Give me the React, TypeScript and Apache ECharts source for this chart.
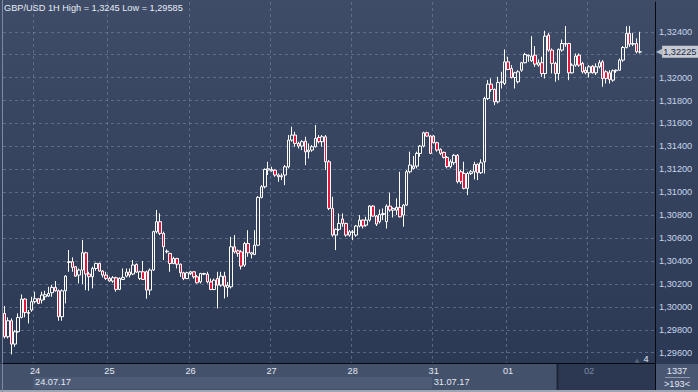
import React, { useEffect, useRef } from 'react';
import * as echarts from 'echarts';

// [open, close, low, high]
type Bar = [number, number, number, number];

const day23: Bar[] = [
  [1.29943, 1.29739, 1.29724, 1.30007],
  [1.29739, 1.29879, 1.29724, 1.29908],
  [1.29879, 1.29675, 1.29585, 1.29899],
  [1.29675, 1.29783, 1.29652, 1.29797],
  [1.29783, 1.29908, 1.29774, 1.29943],
  [1.29908, 1.30068, 1.29899, 1.30108],
  [1.30068, 1.29951, 1.29908, 1.30074],
  [1.29951, 1.29943, 1.29855, 1.29972],
  [1.29972, 1.30045, 1.29957, 1.30088],
];

const day24: Bar[] = [
  [1.30045, 1.30071, 1.3003, 1.30132],
  [1.30071, 1.3003, 1.30024, 1.30077],
  [1.30059, 1.30103, 1.3003, 1.30132],
  [1.30088, 1.30106, 1.30059, 1.3014],
  [1.30094, 1.30117, 1.30088, 1.30175],
  [1.30123, 1.3017, 1.30088, 1.3019],
  [1.3017, 1.3014, 1.30132, 1.30225],
  [1.3014, 1.29914, 1.29879, 1.30152],
  [1.29914, 1.3014, 1.29879, 1.30152],
  [1.3014, 1.30268, 1.3003, 1.30277],
  [1.30388, 1.30394, 1.30306, 1.30496],
  [1.30394, 1.30344, 1.30306, 1.30432],
  [1.3035, 1.30268, 1.30263, 1.30356],
  [1.30277, 1.30321, 1.30205, 1.30335],
  [1.30321, 1.30472, 1.30199, 1.30583],
  [1.30472, 1.30286, 1.30146, 1.30481],
  [1.30286, 1.30263, 1.3014, 1.30306],
  [1.30263, 1.30335, 1.30161, 1.3035],
  [1.30335, 1.30379, 1.30315, 1.30385],
  [1.30379, 1.30312, 1.30306, 1.30385],
  [1.30312, 1.30277, 1.30257, 1.30321],
  [1.30277, 1.30248, 1.30234, 1.30306],
];

const day25: Bar[] = [
  [1.30248, 1.30225, 1.30219, 1.30263],
  [1.30225, 1.30254, 1.3021, 1.30268],
  [1.30254, 1.30152, 1.30132, 1.30263],
  [1.30152, 1.30248, 1.30146, 1.30257],
  [1.30239, 1.30257, 1.30234, 1.30335],
  [1.30268, 1.30303, 1.30257, 1.30335],
  [1.30303, 1.30277, 1.30257, 1.30335],
  [1.30286, 1.30365, 1.30277, 1.30408],
  [1.3037, 1.30303, 1.30298, 1.30379],
  [1.30248, 1.30306, 1.30234, 1.30315],
  [1.30306, 1.30239, 1.30234, 1.30399],
  [1.30306, 1.30146, 1.30071, 1.30315],
  [1.30146, 1.30321, 1.30103, 1.30335],
  [1.30321, 1.30656, 1.30315, 1.30664],
  [1.30656, 1.30743, 1.30641, 1.30845],
  [1.30743, 1.30641, 1.30626, 1.30816],
  [1.30641, 1.30525, 1.30408, 1.30656],
  [1.3048, 1.30486, 1.30466, 1.30501],
  [1.30466, 1.30378, 1.30306, 1.30472],
  [1.30378, 1.30422, 1.30372, 1.30437],
  [1.30422, 1.30372, 1.30335, 1.30428],
  [1.30372, 1.30297, 1.30262, 1.30378],
  [1.30297, 1.30247, 1.30233, 1.30306],
  [1.30247, 1.30297, 1.30242, 1.30306],
];

const day26: Bar[] = [
  [1.30291, 1.30306, 1.30277, 1.30314],
  [1.30306, 1.30262, 1.30247, 1.30312],
  [1.30262, 1.3021, 1.30204, 1.30277],
  [1.30218, 1.30291, 1.30204, 1.30297],
  [1.30285, 1.30291, 1.30277, 1.30297],
  [1.30285, 1.30218, 1.30204, 1.30306],
  [1.30218, 1.30151, 1.30146, 1.30247],
  [1.30151, 1.30233, 1.30146, 1.30247],
  [1.30247, 1.30189, 1.29986, 1.30306],
  [1.30189, 1.30268, 1.30175, 1.30306],
  [1.30268, 1.3018, 1.30073, 1.30306],
  [1.30169, 1.30189, 1.30087, 1.30218],
  [1.30175, 1.30524, 1.3016, 1.30611],
  [1.30524, 1.3048, 1.30466, 1.30626],
  [1.30489, 1.30466, 1.30437, 1.30501],
  [1.3048, 1.30355, 1.30326, 1.30495],
  [1.30364, 1.30553, 1.30349, 1.30567],
  [1.30553, 1.30472, 1.30437, 1.30669],
  [1.3046, 1.30472, 1.30422, 1.3048],
  [1.30457, 1.30538, 1.30451, 1.30669],
  [1.30538, 1.30955, 1.3053, 1.30966],
  [1.30955, 1.31048, 1.30946, 1.31062],
  [1.31048, 1.31199, 1.31033, 1.31208],
  [1.31193, 1.31205, 1.3115, 1.31266],
];

const day27: Bar[] = [
  [1.31187, 1.31199, 1.31179, 1.31222],
  [1.31193, 1.3115, 1.31135, 1.31199],
  [1.3115, 1.31135, 1.31091, 1.31164],
  [1.31135, 1.31144, 1.31106, 1.31164],
  [1.3115, 1.31222, 1.31062, 1.31237],
  [1.31222, 1.31455, 1.31208, 1.31499],
  [1.31455, 1.31499, 1.31441, 1.31572],
  [1.31499, 1.31426, 1.31397, 1.31528],
  [1.31426, 1.31403, 1.31382, 1.31441],
  [1.31403, 1.31441, 1.31368, 1.31455],
  [1.31446, 1.31353, 1.31237, 1.31484],
  [1.31353, 1.31368, 1.31295, 1.31426],
  [1.31368, 1.31397, 1.31353, 1.31411],
  [1.31397, 1.3147, 1.31391, 1.31586],
  [1.31478, 1.31441, 1.31426, 1.31499],
  [1.31441, 1.31484, 1.31397, 1.31499],
  [1.31484, 1.31266, 1.31193, 1.31499],
  [1.31266, 1.30859, 1.30844, 1.31281],
  [1.30859, 1.30626, 1.30612, 1.30961],
  [1.30626, 1.30676, 1.30495, 1.30684],
  [1.30676, 1.30728, 1.30664, 1.30815],
  [1.30766, 1.30728, 1.30699, 1.30815],
  [1.30728, 1.30626, 1.30612, 1.30734],
  [1.30626, 1.30655, 1.30612, 1.3067],
];

const day28: Bar[] = [
  [1.30649, 1.30655, 1.30582, 1.3067],
  [1.30626, 1.30705, 1.30612, 1.30714],
  [1.30705, 1.30757, 1.30693, 1.30801],
  [1.30757, 1.30705, 1.30684, 1.30763],
  [1.30713, 1.30757, 1.30699, 1.30786],
  [1.30757, 1.30879, 1.30743, 1.30888],
  [1.30879, 1.30792, 1.30786, 1.30888],
  [1.30792, 1.30722, 1.30705, 1.30801],
  [1.30743, 1.30806, 1.30728, 1.3085],
  [1.30806, 1.30815, 1.30757, 1.30859],
  [1.30743, 1.30879, 1.30684, 1.30894],
  [1.30879, 1.30844, 1.3083, 1.30996],
  [1.30844, 1.30859, 1.3078, 1.30868],
  [1.30844, 1.30868, 1.30801, 1.30946],
  [1.30868, 1.30786, 1.3078, 1.31179],
  [1.30801, 1.30888, 1.30699, 1.30897],
  [1.30888, 1.31179, 1.30879, 1.31194],
  [1.31179, 1.31237, 1.31164, 1.31354],
  [1.31208, 1.31228, 1.31199, 1.31316],
  [1.31228, 1.31339, 1.31208, 1.31354],
  [1.31339, 1.31403, 1.3131, 1.31412],
  [1.31403, 1.31519, 1.31391, 1.31528],
  [1.31519, 1.3149, 1.31485, 1.31528],
  [1.3149, 1.31339, 1.31333, 1.31499],
];

const day31: Bar[] = [
  [1.3149, 1.31432, 1.31426, 1.31499],
  [1.31432, 1.31368, 1.31354, 1.31441],
  [1.31374, 1.31339, 1.31324, 1.31383],
  [1.31348, 1.31304, 1.31295, 1.31354],
  [1.31304, 1.31223, 1.31208, 1.31316],
  [1.31223, 1.31266, 1.31208, 1.31287],
  [1.31257, 1.31322, 1.31237, 1.31333],
  [1.31322, 1.31092, 1.31077, 1.31333],
  [1.31179, 1.31092, 1.31071, 1.31194],
  [1.31164, 1.31034, 1.31025, 1.31266],
  [1.31034, 1.31164, 1.30975, 1.31179],
  [1.31164, 1.31179, 1.3115, 1.31194],
  [1.31179, 1.31243, 1.31112, 1.31266],
  [1.31243, 1.3117, 1.31106, 1.31252],
  [1.3117, 1.31257, 1.31159, 1.31287],
  [1.31265, 1.31818, 1.31163, 1.31833],
  [1.31818, 1.31943, 1.31804, 1.31978],
  [1.31943, 1.31897, 1.31876, 1.31993],
  [1.31897, 1.31789, 1.3176, 1.31905],
  [1.31789, 1.31958, 1.31775, 1.32007],
  [1.31958, 1.31964, 1.31905, 1.32051],
  [1.31949, 1.32138, 1.31935, 1.32246],
];

const day01: Bar[] = [
  [1.32138, 1.32071, 1.32065, 1.32182],
  [1.3208, 1.32001, 1.31993, 1.32109],
  [1.32001, 1.32042, 1.31905, 1.32051],
  [1.31964, 1.32051, 1.31949, 1.32065],
  [1.32065, 1.3213, 1.32051, 1.32138],
  [1.3213, 1.32202, 1.32124, 1.32217],
  [1.32188, 1.32196, 1.32138, 1.32202],
  [1.32147, 1.32188, 1.32138, 1.32362],
  [1.32196, 1.32118, 1.32095, 1.32275],
  [1.32109, 1.3213, 1.32095, 1.32159],
  [1.3213, 1.32036, 1.32007, 1.32182],
  [1.32036, 1.32362, 1.31993, 1.32409],
  [1.32371, 1.3224, 1.32226, 1.32391],
  [1.3224, 1.32124, 1.32036, 1.32255],
  [1.32124, 1.32036, 1.31964, 1.32138],
  [1.32036, 1.32246, 1.31978, 1.32255],
  [1.3224, 1.32298, 1.32226, 1.32333],
  [1.32292, 1.32298, 1.32269, 1.3245],
  [1.32298, 1.32042, 1.31978, 1.32304],
  [1.32042, 1.32109, 1.32036, 1.32124],
  [1.32109, 1.32188, 1.32095, 1.32211],
  [1.32196, 1.32109, 1.32095, 1.32211],
  [1.32124, 1.32051, 1.32036, 1.32138],
  [1.32065, 1.32042, 1.3203, 1.32095],
];

const day02: Bar[] = [
  [1.32042, 1.32095, 1.32001, 1.32109],
  [1.321, 1.32042, 1.32036, 1.32109],
  [1.32042, 1.32095, 1.32022, 1.32124],
  [1.32095, 1.3213, 1.3208, 1.32153],
  [1.32138, 1.31993, 1.3192, 1.32153],
  [1.32051, 1.31993, 1.31949, 1.32065],
  [1.32042, 1.31984, 1.31949, 1.32065],
  [1.31978, 1.3206, 1.31964, 1.32071],
  [1.3206, 1.32065, 1.32042, 1.32071],
  [1.32065, 1.32153, 1.3206, 1.32167],
  [1.32153, 1.32263, 1.32138, 1.32275],
  [1.32263, 1.32386, 1.32255, 1.32448],
  [1.32386, 1.32292, 1.32269, 1.3245],
  [1.32292, 1.32298, 1.32275, 1.32391],
  [1.32298, 1.32226, 1.32211, 1.32342],
  [1.32224, 1.32225, 1.32211, 1.324],
];

const dayLabels = ['23', '24', '25', '26', '27', '28', '31', '01', '02'];
const dayBars = [day23, day24, day25, day26, day27, day28, day31, day01, day02];
const hiddenDayLabel = '23';
const dimDayLabel = '02';
const weekStartDays = ['24', '31'];
const weekLabels = ['24.07.17', '31.07.17'];
const priceTicks = [
  1.296, 1.298, 1.3, 1.302, 1.304, 1.306, 1.308, 1.31, 1.312, 1.314, 1.316, 1.318, 1.32, 1.322, 1.324,
];
const visibleBars = 193;
const lastPrice = 1.32225;
const titleText = 'GBP/USD 1H High = 1,3245 Low = 1,29585';
const counterTop = '1337';
const counterBottom = '>193<';
const cornerNumber = '4';

const FONT = '"Liberation Sans", Arial, sans-serif';
const FS = 9.2;
const fmt = (v: number) => v.toFixed(5).replace('.', ',');

function buildOption() {
  const categories: string[] = [];
  const bars: Bar[] = [];
  dayBars.forEach((arr, d) => {
    arr.forEach((b, k) => {
      categories.push(dayLabels[d] + ':' + k);
      bars.push(b);
    });
  });
  let p = 0;
  while (categories.length < visibleBars) categories.push('pad:' + p++);

  const isDayStart = (v: string) =>
    v.endsWith(':0') && !v.startsWith('pad') && !v.startsWith(hiddenDayLabel + ':');
  const isWeekStart = (v: string) => weekStartDays.some((d) => v === d + ':0');
  const isShownTick = (v: number) =>
    priceTicks.some((t) => Math.abs(t - v) < 1e-7) && Math.abs(v - lastPrice) > 0.0005;

  const gridLine = { color: 'rgba(122,138,170,0.55)', type: [3, 3] as any, width: 1 };

  return {
    animation: false,
    backgroundColor: '#2f3d59',
    title: {
      text: titleText,
      left: 4,
      top: 2,
      padding: 0,
      textStyle: { color: '#e6ecf6', fontSize: FS, fontWeight: 'normal', fontFamily: FONT, lineHeight: 11 },
    },
    grid: { left: 3, right: 43, top: 2, bottom: 29, containLabel: false },
    xAxis: [
      {
        type: 'category',
        data: categories,
        boundaryGap: true,
        axisLine: { show: true, onZero: false, lineStyle: { color: '#06090f', width: 1 } },
        axisTick: { show: false },
        axisLabel: {
          interval: (_i: number, v: string) => isDayStart(v),
          formatter: (v: string) => {
            const d = v.split(':')[0];
            return d === dimDayLabel ? '{dim|' + d + '}' : d;
          },
          rich: { dim: { color: '#7c89a3', fontSize: FS, fontFamily: FONT } },
          color: '#e2e8f3',
          fontSize: FS,
          fontFamily: FONT,
          margin: 3,
        },
        splitLine: {
          show: true,
          interval: (_i: number, v: string) => isDayStart(v),
          lineStyle: gridLine,
        },
      },
      {
        type: 'category',
        data: categories,
        boundaryGap: true,
        position: 'bottom',
        offset: 11,
        axisLine: { show: false },
        axisTick: { show: false },
        splitLine: { show: false },
        axisLabel: {
          interval: (_i: number, v: string) => isWeekStart(v),
          formatter: (v: string) => weekLabels[weekStartDays.indexOf(v.split(':')[0])] ?? '',
          align: 'left',
          color: '#e2e8f3',
          fontSize: FS,
          fontFamily: FONT,
          margin: 3,
        },
      },
    ],
    yAxis: {
      type: 'value',
      position: 'right',
      min: 1.2951,
      max: 1.3266,
      splitNumber: 15,
      minInterval: 0.002,
      maxInterval: 0.002,
      axisLine: { show: true, lineStyle: { color: '#06090f', width: 1 } },
      axisTick: { show: false },
      axisLabel: {
        color: '#c8d5ea',
        fontSize: FS,
        fontFamily: FONT,
        margin: 4,
        showMinLabel: false,
        showMaxLabel: false,
        formatter: (v: number) => (isShownTick(v) ? fmt(v) : ''),
      },
      splitLine: { show: false },
    },
    series: [
      {
        type: 'candlestick',
        data: bars,
        barWidth: 3,
        clip: false,
        itemStyle: {
          color: 'rgba(0,0,0,0)',
          color0: '#e3163b',
          borderColor: '#ffffff',
          borderColor0: '#ffffff',
          borderWidth: 1,
        },
        markLine: {
          silent: true,
          symbol: 'none',
          animation: false,
          precision: 5,
          z: 0,
          data: [
            ...priceTicks.map((t) => ({
              yAxis: t,
              lineStyle: gridLine,
              label: { show: false },
            })),
            {
              yAxis: lastPrice,
              lineStyle: { color: 'rgba(0,0,0,0)', width: 0 },
              label: {
                show: true,
                position: 'end',
                distance: 1,
                formatter: () => '{a|◀}{b|' + fmt(lastPrice) + '}',
                rich: {
                  a: { color: '#b7bcc7', fontSize: 8, fontFamily: 'DejaVu Sans' },
                  b: {
                    backgroundColor: '#c7cbd3',
                    color: '#1c2640',
                    fontSize: FS,
                    fontFamily: FONT,
                    padding: [2, 2, 1, 1],
                  },
                },
              },
            },
          ],
        },
      },
    ],
    graphic: [
      {
        type: 'rect',
        z: -100,
        silent: true,
        shape: { x: 0, y: 0, width: 698, height: 364 },
        style: {
          fill: new echarts.graphic.LinearGradient(0, 0, 0, 1, [
            { offset: 0, color: '#3f4c68' },
            { offset: 1, color: '#2b3955' },
          ]),
        },
      },
      { type: 'rect', z: -90, silent: true, shape: { x: 0, y: 364, width: 698, height: 28 }, style: { fill: '#44516b' } },
      { type: 'rect', z: -85, silent: true, shape: { x: 33, y: 377, width: 399, height: 12 }, style: { fill: '#4d5b77' } },
      { type: 'rect', z: -85, silent: true, shape: { x: 557, y: 364, width: 98, height: 28 }, style: { fill: '#2c3852' } },
      { type: 'line', z: -80, silent: true, shape: { x1: 557.5, y1: 364, x2: 557.5, y2: 392 }, style: { stroke: '#1d2537', lineWidth: 2 } },
      { type: 'rect', z: -85, silent: true, shape: { x: 656, y: 364, width: 42, height: 28 }, style: { fill: '#4a5773' } },
      { type: 'line', z: -80, silent: true, shape: { x1: 655.5, y1: 360, x2: 655.5, y2: 392 }, style: { stroke: '#06090f', lineWidth: 1 } },
      { type: 'line', z: -80, silent: true, shape: { x1: 665, y1: 377.5, x2: 690, y2: 377.5 }, style: { stroke: '#8c97ab', lineWidth: 1 } },
      { type: 'rect', z: -80, silent: true, shape: { x: 0, y: 390, width: 698, height: 2 }, style: { fill: '#9ea6b4' } },
      { type: 'rect', z: -80, silent: true, shape: { x: 2, y: 0, width: 1, height: 392 }, style: { fill: '#7f8aa0' } },
      {
        type: 'text',
        silent: true,
        style: { text: counterTop, x: 677, y: 370.5, align: 'center', verticalAlign: 'middle', fill: '#e2e8f3', font: FS + 'px ' + FONT },
      },
      {
        type: 'text',
        silent: true,
        style: { text: counterBottom, x: 677, y: 383.5, align: 'center', verticalAlign: 'middle', fill: '#e2e8f3', font: FS + 'px ' + FONT },
      },
      {
        type: 'text',
        silent: true,
        style: { text: cornerNumber, x: 646, y: 358.5, align: 'center', verticalAlign: 'middle', fill: '#e2e8f3', font: FS + 'px ' + FONT },
      },
      {
        type: 'text',
        silent: true,
        style: { text: '▲', x: 637, y: 359, align: 'center', verticalAlign: 'middle', fill: '#56627a', font: '6px DejaVu Sans' },
      },
    ],
  };
}

export default function App() {
  const ref = useRef<HTMLDivElement>(null);
  useEffect(() => {
    if (!ref.current) return;
    const chart = echarts.init(ref.current, undefined, { renderer: 'svg' });
    chart.setOption(buildOption() as any);
    return () => chart.dispose();
  }, []);
  return <div ref={ref} style={{ position: 'fixed', left: 0, top: 0, width: 698, height: 392 }} />;
}
